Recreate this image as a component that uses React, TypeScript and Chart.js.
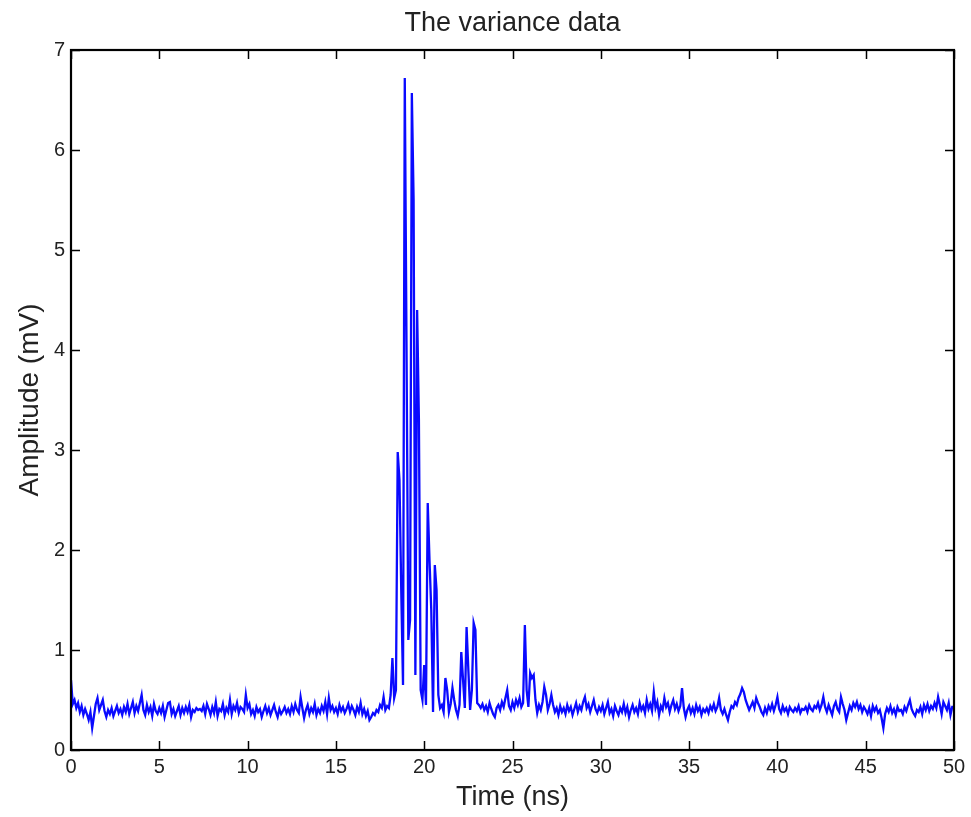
import React, { useEffect, useRef } from "react";
import { Chart, registerables } from "chart.js";

Chart.register(...registerables);

const chartTitle = "The variance data";
const xAxisTitle = "Time (ns)";
const yAxisTitle = "Amplitude (mV)";

const sampleStepNs = 0.1;
const xTickValues = [0, 5, 10, 15, 20, 25, 30, 35, 40, 45, 50];
const yTickValues = [0, 1, 2, 3, 4, 5, 6, 7];

// amplitude samples (mV), one every 0.1 ns from 0 to 50 ns
const amplitude: number[] = [
  // 0-9.9
  0.70, 0.46, 0.50, 0.42, 0.47, 0.38, 0.44, 0.35, 0.41, 0.36,
  0.30, 0.38, 0.22, 0.34, 0.46, 0.52, 0.40, 0.45, 0.50, 0.39,
  0.33, 0.40, 0.36, 0.42, 0.34, 0.39, 0.44, 0.37, 0.41, 0.35,
  0.43, 0.38, 0.46, 0.36, 0.42, 0.48, 0.37, 0.44, 0.39, 0.47,
  0.55, 0.40, 0.35, 0.45, 0.38, 0.43, 0.34, 0.46, 0.39, 0.36,
  0.42, 0.37, 0.44, 0.33, 0.40, 0.47, 0.48, 0.36, 0.41, 0.34,
  0.39, 0.44, 0.35, 0.42, 0.37, 0.43, 0.38, 0.45, 0.33, 0.40,
  0.38, 0.42, 0.40, 0.41, 0.39, 0.44, 0.36, 0.46, 0.41, 0.35,
  0.43, 0.37, 0.48, 0.34, 0.41, 0.39, 0.46, 0.35, 0.42, 0.38,
  0.50, 0.36, 0.44, 0.40, 0.47, 0.37, 0.43, 0.41, 0.38, 0.55,
  // 10-17.9
  0.42, 0.46, 0.36, 0.40, 0.34, 0.43, 0.38, 0.41, 0.33, 0.39,
  0.44, 0.37, 0.42, 0.35, 0.40, 0.45, 0.38, 0.33, 0.41, 0.36,
  0.39, 0.43, 0.37, 0.41, 0.36, 0.44, 0.38, 0.46, 0.40, 0.37,
  0.53, 0.42, 0.32, 0.40, 0.45, 0.36, 0.42, 0.38, 0.46, 0.35,
  0.41, 0.37, 0.44, 0.39, 0.48, 0.36, 0.52, 0.40, 0.44, 0.38,
  0.42, 0.36, 0.45, 0.39, 0.43, 0.37, 0.41, 0.46, 0.38, 0.44,
  0.40, 0.35, 0.43, 0.38, 0.47, 0.36, 0.41, 0.34, 0.39, 0.30,
  0.33, 0.37, 0.35, 0.40, 0.38, 0.45, 0.42, 0.53, 0.40, 0.44,
  // 18-27.9
  0.42, 0.55, 0.92, 0.52, 0.60, 2.98, 2.70, 1.60, 0.65, 6.72,
  4.00, 1.10, 1.30, 6.57, 5.50, 0.75, 4.40, 3.30, 0.60, 0.50,
  0.85, 0.45, 2.47, 1.90, 1.40, 0.38, 1.85, 1.60, 0.55, 0.42,
  0.45, 0.38, 0.72, 0.60, 0.38, 0.46, 0.62, 0.50, 0.40, 0.34,
  0.45, 0.98, 0.70, 0.42, 1.23, 0.80, 0.40, 0.60, 1.27, 1.20,
  0.47, 0.45, 0.42, 0.46, 0.40, 0.44, 0.38, 0.47, 0.41, 0.36,
  0.33, 0.42, 0.45, 0.40, 0.48, 0.43, 0.52, 0.60, 0.44, 0.40,
  0.48, 0.42, 0.50, 0.45, 0.52, 0.43, 0.47, 1.25, 0.60, 0.43,
  0.77, 0.72, 0.75, 0.50, 0.37, 0.45, 0.40, 0.48, 0.63, 0.55,
  0.40, 0.46, 0.55, 0.45, 0.38, 0.42, 0.35, 0.44, 0.38, 0.42,
  // 28-49.9
  0.36, 0.45, 0.39, 0.43, 0.35, 0.41, 0.47, 0.38, 0.44, 0.40,
  0.48, 0.53, 0.42, 0.46, 0.38, 0.44, 0.50, 0.41, 0.37, 0.43,
  0.39, 0.45, 0.36, 0.42, 0.48, 0.37, 0.41, 0.34, 0.44, 0.39,
  0.35, 0.42, 0.38, 0.46, 0.37, 0.43, 0.33, 0.40, 0.45, 0.38,
  0.42, 0.36, 0.47, 0.40, 0.44, 0.37, 0.50, 0.41, 0.46, 0.39,
  0.58, 0.42, 0.48, 0.35, 0.44, 0.40, 0.52, 0.43, 0.47, 0.38,
  0.45, 0.50, 0.41, 0.46, 0.39, 0.44, 0.62, 0.42, 0.33, 0.40,
  0.44, 0.37, 0.42, 0.36, 0.45, 0.39, 0.43, 0.35, 0.41, 0.38,
  0.42, 0.37, 0.44, 0.40, 0.46, 0.39, 0.43, 0.52, 0.40, 0.36,
  0.41, 0.35, 0.30, 0.38, 0.44, 0.42, 0.48, 0.45, 0.52, 0.56,
  0.62, 0.58, 0.50, 0.45, 0.40, 0.44, 0.48, 0.42, 0.52, 0.47,
  0.43, 0.38, 0.35, 0.42, 0.37, 0.44, 0.40, 0.46, 0.39, 0.45,
  0.53, 0.41, 0.37, 0.44, 0.39, 0.42, 0.36, 0.43, 0.40, 0.38,
  0.42, 0.39, 0.44, 0.37, 0.41, 0.40, 0.43, 0.38, 0.45, 0.41,
  0.39, 0.44, 0.42, 0.47, 0.40, 0.45, 0.53, 0.43, 0.38, 0.45,
  0.40, 0.35, 0.44, 0.48, 0.41, 0.38, 0.53, 0.46, 0.40, 0.30,
  0.37, 0.44, 0.40, 0.47, 0.43, 0.48, 0.41, 0.45, 0.38, 0.43,
  0.40, 0.36, 0.42, 0.34, 0.44, 0.39, 0.43, 0.37, 0.40, 0.32,
  0.22, 0.36, 0.42, 0.38, 0.44, 0.37, 0.41, 0.35, 0.43, 0.39,
  0.40, 0.36, 0.43, 0.39, 0.45, 0.50, 0.41, 0.37, 0.34, 0.40,
  0.38, 0.43, 0.36, 0.45, 0.40, 0.46, 0.39, 0.44, 0.41, 0.47,
  0.42, 0.53, 0.45, 0.36, 0.48, 0.44, 0.40, 0.47, 0.35, 0.43,
  // 50
  0.43,
];

const timeNs = amplitude.map((_, i) => Math.round(i * sampleStepNs * 10) / 10);

const FONT = "'Liberation Sans', Arial, Helvetica, sans-serif";

const boxAndTicks = {
  id: "boxAndTicks",
  afterDraw(chart: any) {
    const { ctx, chartArea } = chart;
    const { left, right, top, bottom } = chartArea;
    const xs = chart.scales.x;
    const ys = chart.scales.y;
    const len = 9;
    ctx.save();
    ctx.strokeStyle = "#000";
    ctx.lineWidth = 1.5;
    ctx.beginPath();
    xs.ticks.forEach((t: any) => {
      const px = Math.round(xs.getPixelForValue(t.value)) + 0.5;
      ctx.moveTo(px, bottom);
      ctx.lineTo(px, bottom - len);
      ctx.moveTo(px, top);
      ctx.lineTo(px, top + len);
    });
    ys.ticks.forEach((t: any) => {
      const py = Math.round(ys.getPixelForValue(t.value)) + 0.5;
      ctx.moveTo(left, py);
      ctx.lineTo(left + len, py);
      ctx.moveTo(right, py);
      ctx.lineTo(right - len, py);
    });
    ctx.stroke();
    ctx.lineWidth = 2.2;
    ctx.strokeRect(left, top, right - left, bottom - top);
    // title centred over the plot box
    ctx.fillStyle = "#222";
    ctx.font = `27px ${FONT}`;
    ctx.textAlign = "center";
    ctx.textBaseline = "middle";
    ctx.fillText(chartTitle, (left + right) / 2, 24);
    ctx.restore();
  },
};

export default function App() {
  const ref = useRef<HTMLCanvasElement | null>(null);

  useEffect(() => {
    document.body.style.margin = "0";
    const canvas = ref.current;
    if (!canvas) return;
    const points = timeNs.map((t, i) => ({ x: t, y: amplitude[i] }));
    const chart = new Chart(canvas, {
      type: "line",
      data: {
        datasets: [
          {
            data: points,
            borderColor: "#0a0aff",
            borderWidth: 2.3,
            pointRadius: 0,
            tension: 0,
            fill: false,
          },
        ],
      },
      options: {
        animation: false,
        responsive: false,
        layout: { padding: { left: 0, right: 17, top: 50, bottom: 0 } },
        plugins: {
          legend: { display: false },
          tooltip: { enabled: false },
          title: { display: false },
        },
        scales: {
          x: {
            type: "linear",
            min: 0,
            max: 50,
            afterFit: (scale: any) => {
              scale.height = 67;
            },
            afterBuildTicks: (scale: any) => {
              scale.ticks = xTickValues.map((v) => ({ value: v }));
            },
            grid: { display: false, drawTicks: false },
            border: { display: false },
            ticks: {
              color: "#222",
              padding: 5,
              maxRotation: 0,
              autoSkip: false,
              font: { family: FONT, size: 20 },
            },
            title: {
              display: true,
              text: xAxisTitle,
              color: "#222",
              font: { family: FONT, size: 27, lineHeight: 1 },
              padding: { top: 0, bottom: 6 },
            },
          },
          y: {
            type: "linear",
            min: 0,
            max: 7,
            afterFit: (scale: any) => {
              scale.width = 71;
            },
            afterBuildTicks: (scale: any) => {
              scale.ticks = yTickValues.map((v) => ({ value: v }));
            },
            grid: { display: false, drawTicks: false },
            border: { display: false },
            ticks: {
              color: "#222",
              padding: 6,
              autoSkip: false,
              font: { family: FONT, size: 20 },
            },
            title: {
              display: true,
              text: yAxisTitle,
              color: "#222",
              font: { family: FONT, size: 28, lineHeight: 1 },
              padding: { top: 16, bottom: 0 },
            },
          },
        },
      },
      plugins: [boxAndTicks],
    });
    return () => chart.destroy();
  }, []);

  return (
    <div style={{ width: 971, height: 817, background: "#fff" }}>
      <canvas ref={ref} width={971} height={817} style={{ display: "block" }} />
    </div>
  );
}
